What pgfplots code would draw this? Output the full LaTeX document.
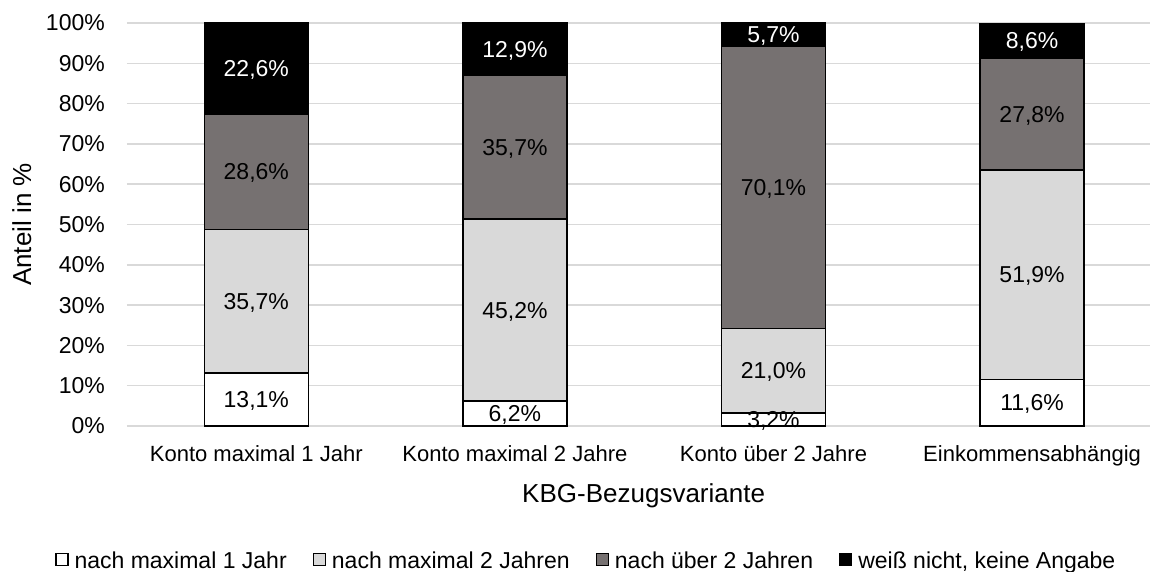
\documentclass[border=0pt]{standalone}
\usepackage{fontspec}
\setmainfont{Liberation Sans}
\usepackage{pgfplots}
\pgfplotsset{compat=1.18}
\definecolor{gridc}{HTML}{D9D9D9}
\definecolor{lgray}{HTML}{D9D9D9}
\definecolor{dgray}{HTML}{767171}
\begin{document}
\begin{tikzpicture}
\begin{axis}[
  at={(0pt,0pt)}, anchor=south west,
  scale only axis, width=1023pt, height=403pt,
  xmin=-0.5, xmax=3.456, ymin=0, ymax=100,
  ybar stacked, bar width=104pt,
  xtick={0,1,2,3},
  xticklabels={Konto maximal 1 Jahr, Konto maximal 2 Jahre, Konto über 2 Jahre, Einkommensabhängig},
  ytick={0,10,...,100},
  yticklabel={\pgfmathprintnumber{\tick}\%},
  /pgf/number format/assume math mode=true,
  major tick length=0pt,
  tick style={draw=none},
  axis line style={draw=none},
  ymajorgrids, grid style={draw=gridc, line width=1.5pt},
  xticklabel style={font=\fontsize{22}{26}\selectfont, anchor=north, inner sep=0pt, yshift=-19pt},
  yticklabel style={font=\fontsize{23}{27}\selectfont, anchor=east, inner sep=0pt, xshift=-22pt},
  xlabel={KBG-Bezugsvariante},
  xlabel style={at={(axis description cs:0.505,0)}, anchor=north, yshift=-57pt, inner sep=0pt, font=\fontsize{26}{30}\selectfont},
  ylabel={Anteil in \%},
  ylabel style={at={(axis description cs:-0.1124,0.5)}, anchor=north, inner sep=0pt, font=\fontsize{26}{30}\selectfont},
  nodes near coords={\pgfmathprintnumber[fixed,fixed zerofill,precision=1,use comma]{\pgfplotspointmeta}\%},
  every node near coord/.append style={font=\fontsize{23}{27}\selectfont, anchor=base, inner sep=0pt, yshift=-8.2pt},
  legend columns=4,
  legend style={at={(axis description cs:0.449,-0.334)}, anchor=center, draw=none, fill=none,
    font=\fontsize{23}{27}\selectfont,
    /tikz/every odd column/.append style={column sep=4pt},
    /tikz/every even column/.append style={column sep=24pt}},
  legend image code/.code={\draw[#1, draw=black, line width=1.2pt] (0pt,-5pt) rectangle (12pt,7pt);},
]
\addplot[fill=white, draw=black, line width=1.5pt] coordinates {(0,13.1) (1,6.2) (2,3.2) (3,11.6)};
\addplot[fill=lgray, draw=black, line width=1.5pt] coordinates {(0,35.7) (1,45.2) (2,21.0) (3,51.9)};
\addplot[fill=dgray, draw=black, line width=1.5pt] coordinates {(0,28.6) (1,35.7) (2,70.1) (3,27.8)};
\addplot[fill=black, draw=black, line width=1.5pt, every node near coord/.append style={text=white}] coordinates {(0,22.6) (1,12.9) (2,5.7) (3,8.6)};
\legend{nach maximal 1 Jahr, nach maximal 2 Jahren, nach über 2 Jahren, {weiß nicht, keine Angabe}}
\end{axis}
\pgfresetboundingbox
\useasboundingbox (-127pt,-145pt) rectangle (1023pt,426pt);
\end{tikzpicture}
\end{document}
